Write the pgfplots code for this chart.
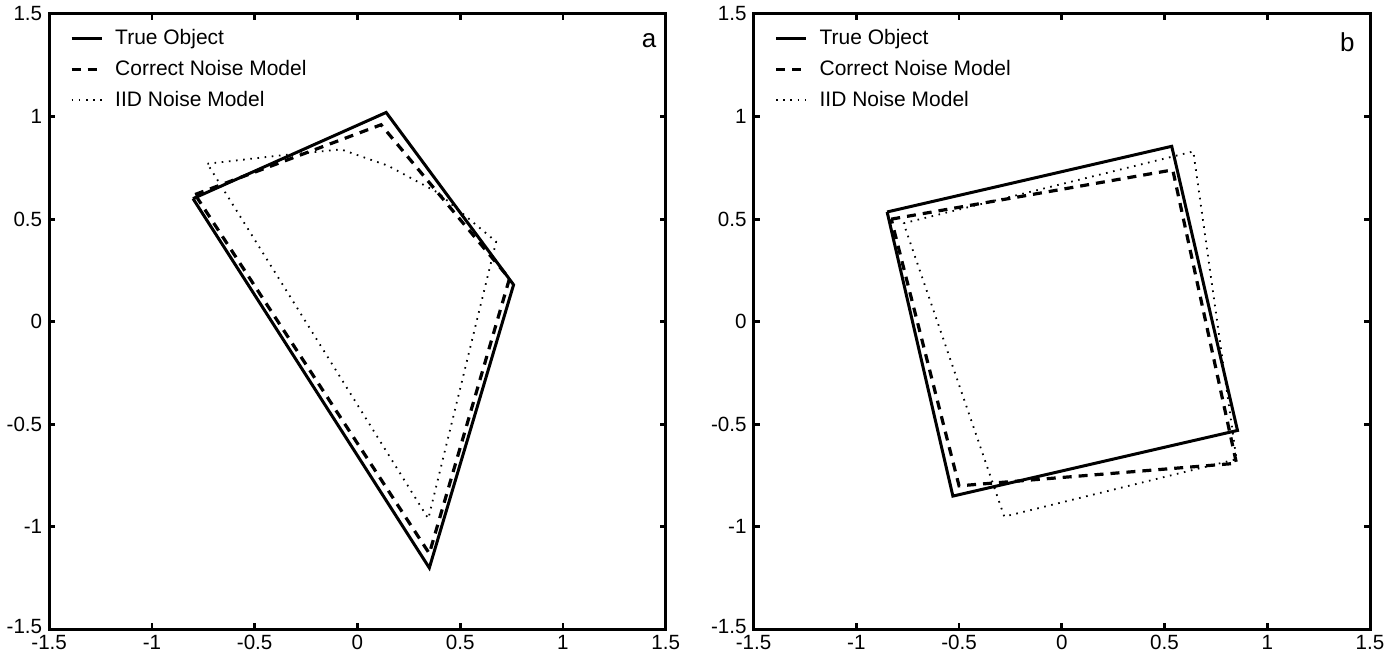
\documentclass[border=0pt]{standalone}
\usepackage{fontspec}
\setmainfont{Liberation Sans}
\usepackage{pgfplots}
\pgfplotsset{compat=1.18}
\begin{document}
\begin{tikzpicture}
\pgfplotsset{
  panel/.style={
    scale only axis, width=308.5pt, height=308pt,
    xmin=-1.5, xmax=1.5, ymin=-1.5, ymax=1.5,
    xtick={-1.5,-1,-0.5,0,0.5,1,1.5},
    ytick={-1.5,-1,-0.5,0,0.5,1,1.5},
    yticklabels={\raisebox{3.5pt}{-1.5},-1,-0.5,0,0.5,1,1.5},
    tick align=inside, major tick length=3pt,
    every tick/.style={line width=1.4pt, black},
    axis line style={line width=1.5pt},
    tick label style={font=\fontsize{10.3}{12}\selectfont},
    /pgf/number format/assume math mode=true,
    xticklabel style={yshift=0.5pt},
    legend style={at={(0.03,0.985)}, anchor=north west, draw=none, fill=none,
      font=\fontsize{10.5}{12}\selectfont, row sep=2.3pt, inner sep=1pt},
    legend cell align=left,
    legend image code/.code={\draw[##1] (0pt,0pt) -- (15pt,0pt);},
  },
  trueobj/.style={black, line width=1.5pt, line join=miter},
  corrnoise/.style={black, line width=1.6pt, dash pattern=on 4.5pt off 3.5pt, line join=miter},
  iidnoise/.style={black, line width=0.9pt, dash pattern=on 0.8pt off 2.8pt},
}
\begin{axis}[panel, name=left, at={(0,0)}, anchor=south west]
\addplot[trueobj] coordinates {(-0.80,0.60) (0.14,1.02) (0.76,0.18) (0.35,-1.20) (-0.80,0.60)};
\addlegendentry{\hspace{4pt}True Object}
\addplot[corrnoise] coordinates {(-0.79,0.62) (0.115,0.96) (0.74,0.21) (0.35,-1.13) (-0.79,0.62)};
\addlegendentry{\hspace{4pt}Correct Noise Model}
\addplot[iidnoise] coordinates {(-0.73,0.77) (-0.38,0.81) (-0.08,0.84) (0.15,0.76) (0.39,0.63) (0.675,0.39) (0.345,-0.96) (-0.73,0.77)};
\addlegendentry{\hspace{4pt}IID Noise Model}
\node[font=\fontsize{13}{15}\selectfont] at (axis cs:1.42,1.37) {a};
\end{axis}
\begin{axis}[panel, name=right, at={(352.5pt,0)}, anchor=south west]
\addplot[trueobj] coordinates {(-0.85,0.535) (0.535,0.855) (0.855,-0.53) (-0.53,-0.85) (-0.85,0.535)};
\addlegendentry{\hspace{4pt}True Object}
\addplot[corrnoise] coordinates {(-0.83,0.50) (0.54,0.74) (0.85,-0.69) (-0.50,-0.80) (-0.83,0.50)};
\addlegendentry{\hspace{4pt}Correct Noise Model}
\addplot[iidnoise] coordinates {(-0.77,0.48) (0.64,0.83) (0.85,-0.67) (-0.28,-0.95) (-0.77,0.48)};
\addlegendentry{\hspace{4pt}IID Noise Model}
\node[font=\fontsize{13}{15}\selectfont] at (axis cs:1.39,1.36) {b};
\end{axis}
\useasboundingbox (-24pt,-8pt) rectangle (671.5pt,315pt);
\end{tikzpicture}
\end{document}
